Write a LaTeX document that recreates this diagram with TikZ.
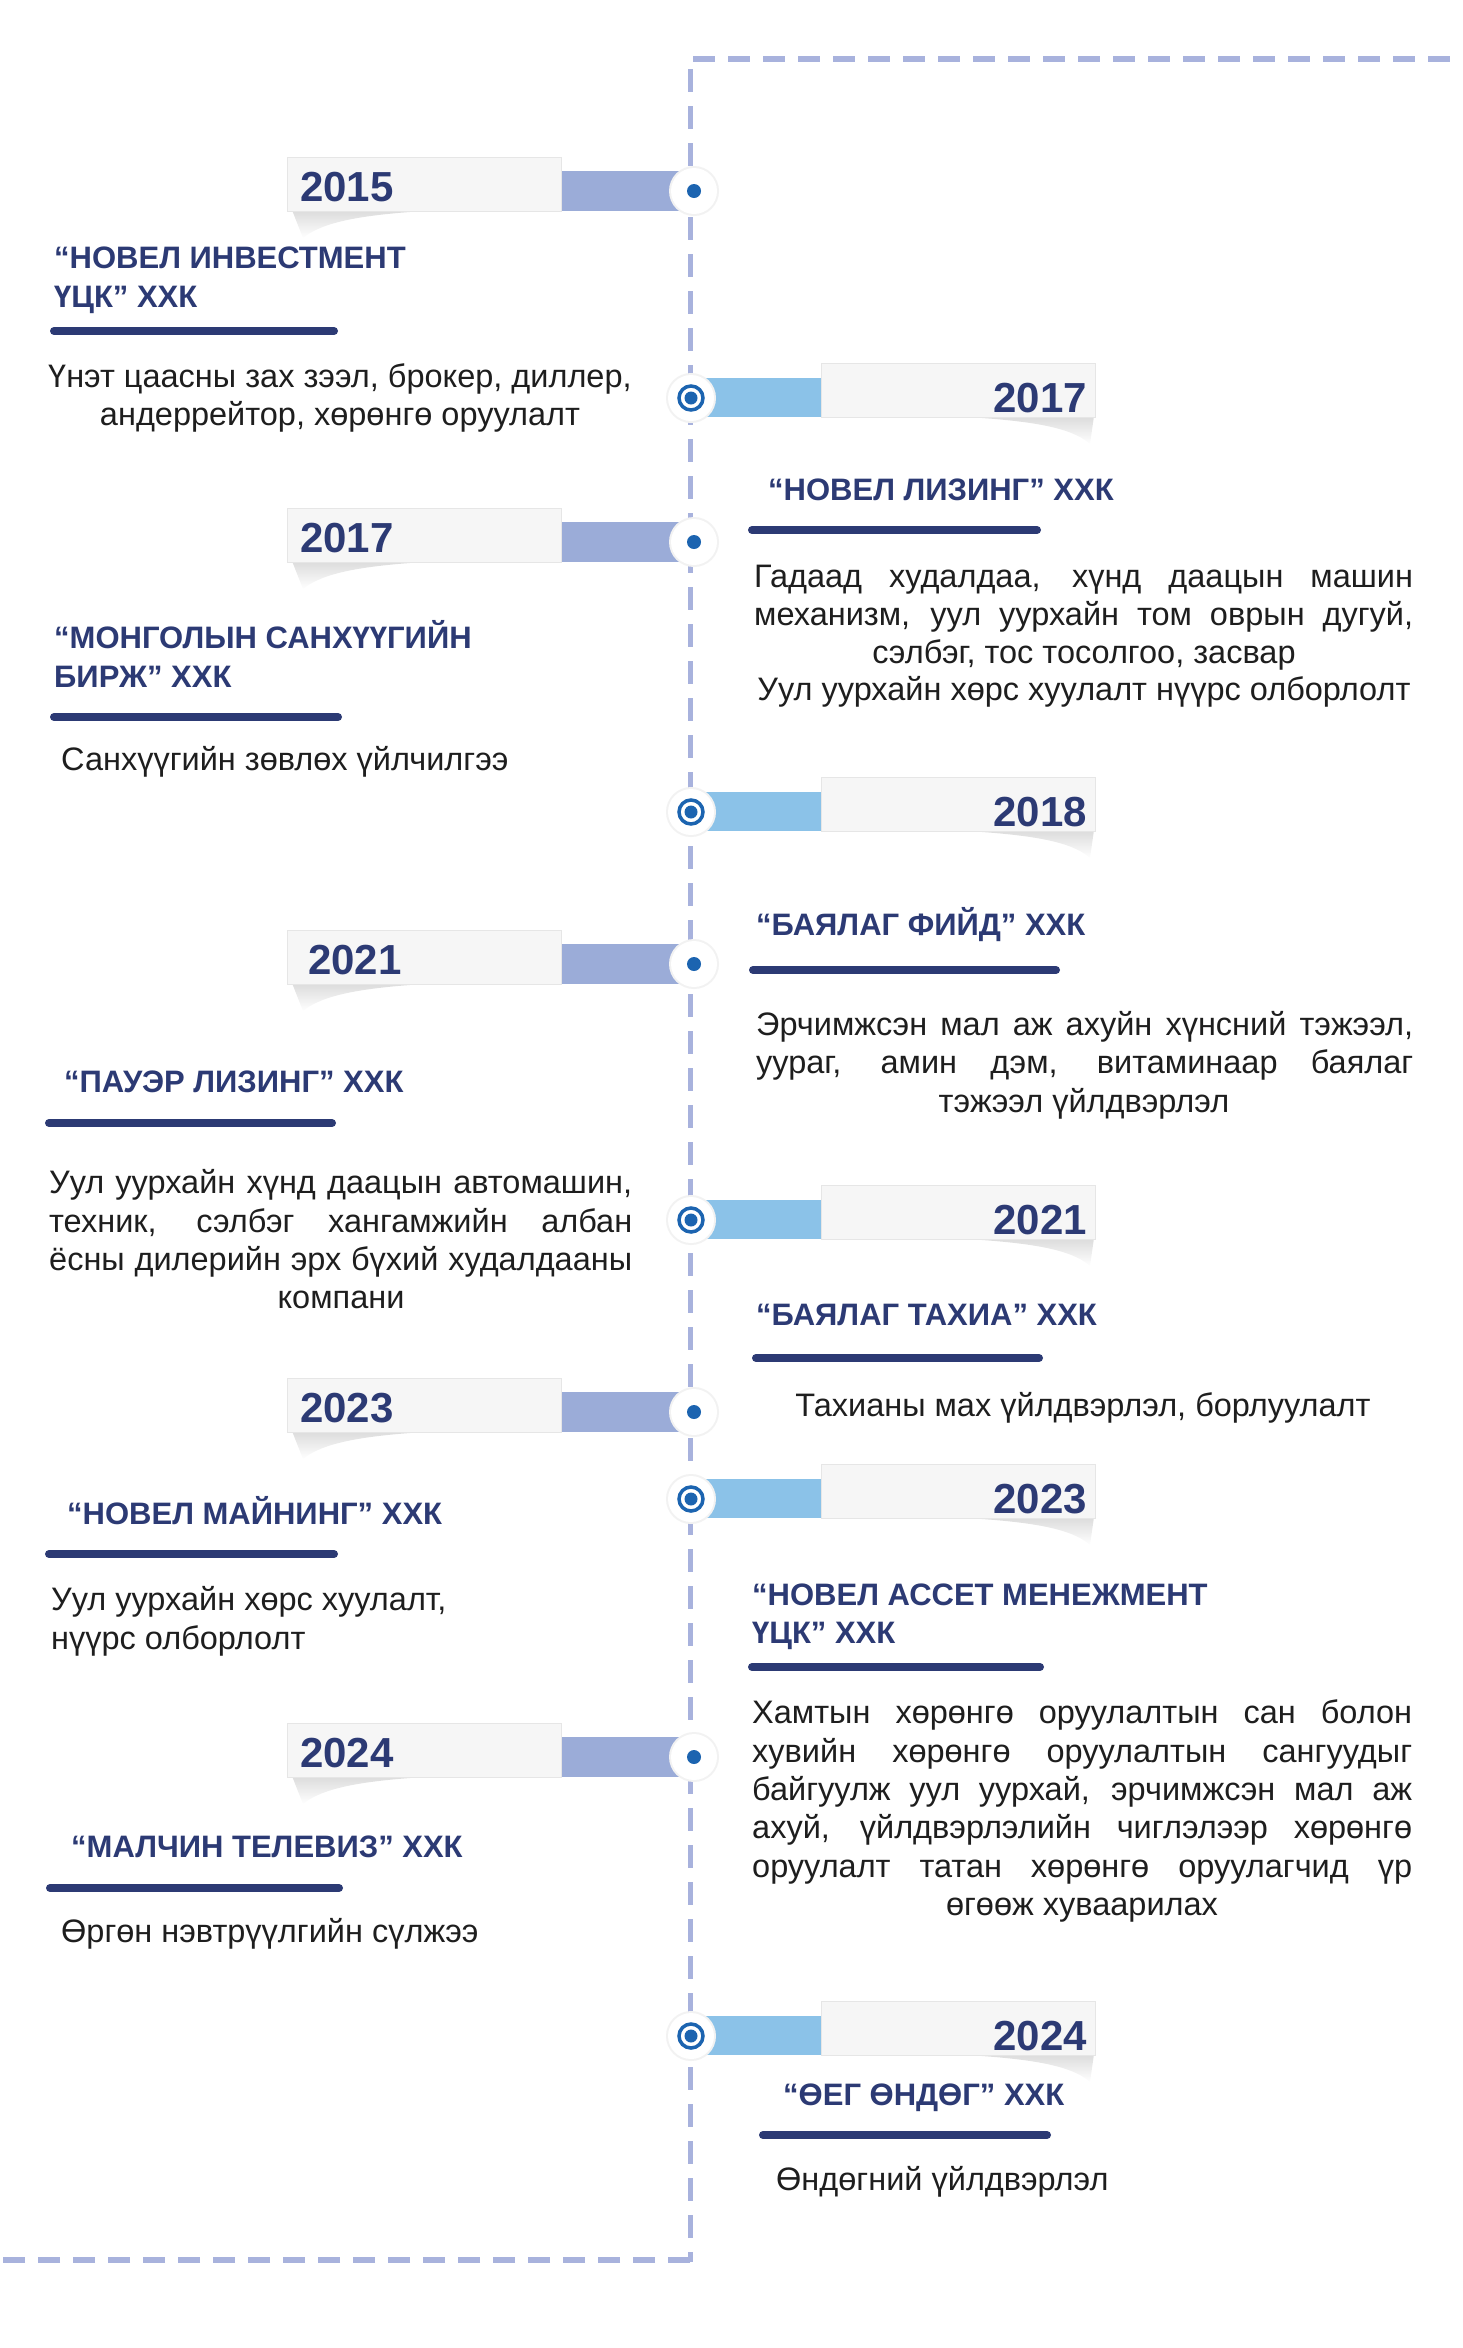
\documentclass[tikz,border=0pt]{standalone}
\usepackage{fontspec}
\setmainfont{Liberation Sans}
\usetikzlibrary{fadings}
\definecolor{navy}{RGB}{44,58,116}
\definecolor{lav}{RGB}{155,172,216}
\definecolor{sky}{RGB}{139,194,232}
\definecolor{dashc}{RGB}{168,178,221}
\definecolor{dotblue}{RGB}{28,100,176}
\definecolor{boxfill}{RGB}{246,246,246}
\definecolor{boxline}{RGB}{230,230,230}
\definecolor{ink}{RGB}{30,30,30}
\newcommand\jline[2]{\makebox[#1][s]{#2}}
\newcommand\Lentry[4]{%
  \fill[black,opacity=0.14,path fading=south] (292,#2+52) -- (440,#2+52) .. controls (370,#2+56) and (325,#2+62) .. (303,#2+80) -- cycle;
  \fill[lav] (561,#2+13) rectangle (694,#2+53);
  \node[ybox] (#1box) at (424,#2+26.5) {};
  \fill[black!5] (694,#2+33) circle[radius=25pt];
  \fill[white] (694,#2+33) circle[radius=23pt];
  \node[ldot] (#1dot) at (694,#2+33) {};
  \node[yeartxt,anchor=base west] (#1yr) at (#4,#2+43) {#3};
}
\newcommand\Rentry[3]{%
  \fill[black,opacity=0.14,path fading=south] (1094,#2+18) -- (950,#2+18) .. controls (1025,#2+22) and (1070,#2+28) .. (1090,#2+46) -- cycle;
  \fill[sky] (691,#2-20) rectangle (821,#2+19);
  \node[ybox] (#1box) at (958.5,#2-8) {};
  \fill[black!5] (691,#2) circle[radius=25pt];
  \fill[white] (691,#2) circle[radius=23pt];
  \node[rring] (#1dot) at (691,#2) {};
  \fill[dotblue] (#1dot.center) circle[radius=6.5pt];
  \node[yeartxt,anchor=base east] (#1yr) at (1087,#2+14) {#3};
}
\begin{document}
\begin{tikzpicture}[x=1pt,y=-1pt,
  ybox/.style={draw=boxline,line width=1pt,fill=boxfill,minimum width=274pt,minimum height=54pt,inner sep=0pt},
  ldot/.style={circle,fill=dotblue,minimum size=14pt,inner sep=0pt},
  rring/.style={circle,draw=dotblue,line width=3.5pt,minimum size=24pt,inner sep=0pt},
  yeartxt/.style={font=\fontsize{42}{48}\selectfont\bfseries,text=navy,inner sep=0pt},
  ttl/.style={font=\fontsize{31}{36}\selectfont\bfseries,text=navy,inner sep=0pt,anchor=base west},
  bd/.style={font=\fontsize{32.5}{38}\selectfont,text=ink,inner sep=0pt},
  bdl/.style={bd,anchor=base west},
  bdc/.style={bd,anchor=base},
  uline/.style={draw=navy,line width=8pt,line cap=round},
  dashln/.style={draw=dashc}]
\useasboundingbox (0,0) rectangle (1463,2348);
\fill[white] (0,0) rectangle (1463,2348);
% frame
\coordinate (tr) at (1463,59);
\coordinate (tc) at (693,59);
\coordinate (vt) at (690,69);
\coordinate (vb) at (690,2262);
\coordinate (bl) at (0,2260);
\coordinate (bc) at (690,2260);
\draw[dashln,line width=6pt,dash pattern=on 22pt off 13pt] (tc) -- (tr);
\draw[dashln,line width=5pt,dash pattern=on 23pt off 14pt] (vt) -- (vb);
\draw[dashln,line width=6pt,dash pattern=on 22pt off 13pt] (bc) -- (bl);

% ---------- left entries ----------
\Lentry{L15}{158}{2015}{300}
\node[ttl] (L15t1) at (54,268) {“НОВЕЛ ИНВЕСТМЕНТ};
\node[ttl] (L15t2) at (54,307) {ҮЦК” ХХК};
\coordinate (L15ua) at (54,331); \coordinate (L15ub) at (334,331);
\draw[uline] (L15ua) -- (L15ub);
\node[bdc] (L15d1) at (340,387) {Үнэт цаасны зах зээл, брокер, диллер,};
\node[bdc] (L15d2) at (340,425) {андеррейтор, хөрөнгө оруулалт};

\Lentry{L17}{509}{2017}{300}
\node[ttl] (L17t1) at (54,648) {“МОНГОЛЫН САНХҮҮГИЙН};
\node[ttl] (L17t2) at (54,687) {БИРЖ” ХХК};
\coordinate (L17ua) at (54,717); \coordinate (L17ub) at (338,717);
\draw[uline] (L17ua) -- (L17ub);
\node[bdl] (L17d1) at (61,770) {Санхүүгийн зөвлөх үйлчилгээ};

\Lentry{L21}{931}{2021}{308}
\node[ttl] (L21t1) at (64,1092) {“ПАУЭР ЛИЗИНГ” ХХК};
\coordinate (L21ua) at (49,1123); \coordinate (L21ub) at (332,1123);
\draw[uline] (L21ua) -- (L21ub);
\node[bdl] (L21d1) at (49,1193) {\jline{583pt}{Уул уурхайн хүнд даацын автомашин,}};
\node[bdl] (L21d2) at (49,1232) {\jline{583pt}{техник, сэлбэг хангамжийн албан}};
\node[bdl] (L21d3) at (49,1270) {\jline{583pt}{ёсны дилерийн эрх бүхий худалдааны}};
\node[bdc] (L21d4) at (341,1308) {компани};

\Lentry{L23}{1379}{2023}{300}
\node[ttl] (L23t1) at (67,1524) {“НОВЕЛ МАЙНИНГ” ХХК};
\coordinate (L23ua) at (49,1554); \coordinate (L23ub) at (334,1554);
\draw[uline] (L23ua) -- (L23ub);
\node[bdl] (L23d1) at (51,1610) {Уул уурхайн хөрс хуулалт,};
\node[bdl] (L23d2) at (51,1649) {нүүрс олборлолт};

\Lentry{L24}{1724}{2024}{300}
\node[ttl] (L24t1) at (71,1857) {“МАЛЧИН ТЕЛЕВИЗ” ХХК};
\coordinate (L24ua) at (50,1888); \coordinate (L24ub) at (339,1888);
\draw[uline] (L24ua) -- (L24ub);
\node[bdl] (L24d1) at (61,1942) {Өргөн нэвтрүүлгийн сүлжээ};

% ---------- right entries ----------
\Rentry{R17}{398}{2017}
\node[ttl] (R17t1) at (768,500) {“НОВЕЛ ЛИЗИНГ” ХХК};
\coordinate (R17ua) at (752,530); \coordinate (R17ub) at (1037,530);
\draw[uline] (R17ua) -- (R17ub);
\node[bdl] (R17d1) at (754,587) {\jline{659pt}{Гадаад худалдаа, хүнд даацын машин}};
\node[bdl] (R17d2) at (754,625) {\jline{659pt}{механизм, уул уурхайн том оврын дугуй,}};
\node[bdc] (R17d3) at (1084,663) {сэлбэг, тос тосолгоо, засвар};
\node[bdc] (R17d4) at (1084,700) {Уул уурхайн хөрс хуулалт нүүрс олборлолт};

\Rentry{R18}{812}{2018}
\node[ttl] (R18t1) at (756,935) {“БАЯЛАГ ФИЙД” ХХК};
\coordinate (R18ua) at (753,970); \coordinate (R18ub) at (1056,970);
\draw[uline] (R18ua) -- (R18ub);
\node[bdl] (R18d1) at (756,1035) {\jline{657pt}{Эрчимжсэн мал аж ахуйн хүнсний тэжээл,}};
\node[bdl] (R18d2) at (756,1073) {\jline{657pt}{уураг, амин дэм, витаминаар баялаг}};
\node[bdc] (R18d3) at (1084,1112) {тэжээл үйлдвэрлэл};

\Rentry{R21}{1220}{2021}
\node[ttl] (R21t1) at (756,1325) {“БАЯЛАГ ТАХИА” ХХК};
\coordinate (R21ua) at (756,1358); \coordinate (R21ub) at (1039,1358);
\draw[uline] (R21ua) -- (R21ub);
\node[bdc] (R21d1) at (1083,1416) {Тахианы мах үйлдвэрлэл, борлуулалт};

\Rentry{R23}{1499}{2023}
\node[ttl] (R23t1) at (752,1605) {“НОВЕЛ АССЕТ МЕНЕЖМЕНТ};
\node[ttl] (R23t2) at (752,1643) {ҮЦК” ХХК};
\coordinate (R23ua) at (752,1667); \coordinate (R23ub) at (1040,1667);
\draw[uline] (R23ua) -- (R23ub);
\node[bdl] (R23d1) at (752,1723) {\jline{660pt}{Хамтын хөрөнгө оруулалтын сан болон}};
\node[bdl] (R23d2) at (752,1762) {\jline{660pt}{хувийн хөрөнгө оруулалтын сангуудыг}};
\node[bdl] (R23d3) at (752,1800) {\jline{660pt}{байгуулж уул уурхай, эрчимжсэн мал аж}};
\node[bdl] (R23d4) at (752,1838) {\jline{660pt}{ахуй, үйлдвэрлэлийн чиглэлээр хөрөнгө}};
\node[bdl] (R23d5) at (752,1877) {\jline{660pt}{оруулалт татан хөрөнгө оруулагчид үр}};
\node[bdc] (R23d6) at (1082,1915) {өгөөж хуваарилах};

\Rentry{R24}{2036}{2024}
\node[ttl] (R24t1) at (783,2105) {“ӨЕГ ӨНДӨГ” ХХК};
\coordinate (R24ua) at (763,2135); \coordinate (R24ub) at (1047,2135);
\draw[uline] (R24ua) -- (R24ub);
\node[bdl] (R24d1) at (776,2190) {Өндөгний үйлдвэрлэл};
\end{tikzpicture}
\end{document}
